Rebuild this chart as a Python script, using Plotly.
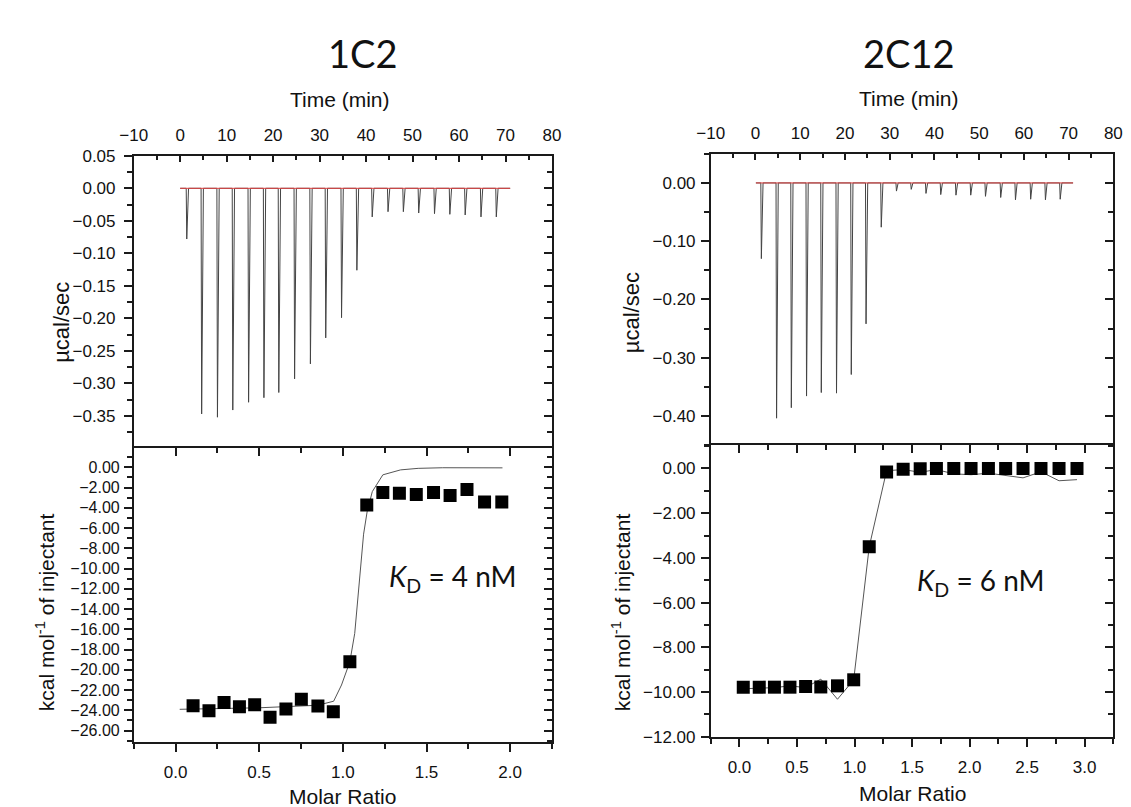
import plotly.graph_objects as go

# ---------------- data ----------------
# Raw ITC thermograms: injection times (min) and peak depths (ucal/sec)
inj_time_1c2 = [1.3, 4.5, 7.9, 11.2, 14.6, 17.9, 21.1, 24.5, 27.9, 31.2, 34.6,
                37.9, 41.2, 44.6, 47.9, 51.2, 54.6, 57.9, 61.2, 64.6, 67.9]
peak_1c2 = [-0.078, -0.347, -0.352, -0.341, -0.329, -0.322, -0.314, -0.293,
            -0.270, -0.230, -0.199, -0.126, -0.044, -0.036, -0.036, -0.038,
            -0.039, -0.040, -0.041, -0.044, -0.044]
baseline_1c2 = [0.0, 71.0]

inj_time_2c12 = [1.2, 4.6, 7.9, 11.3, 14.6, 18.0, 21.3, 24.6, 28.0, 31.4, 34.7,
                 38.0, 41.3, 44.7, 48.0, 51.3, 54.7, 58.0, 61.4, 64.7, 68.0]
peak_2c12 = [-0.130, -0.404, -0.386, -0.366, -0.360, -0.361, -0.329, -0.242,
             -0.076, -0.014, -0.011, -0.018, -0.020, -0.021, -0.021, -0.023,
             -0.025, -0.029, -0.028, -0.029, -0.028]
baseline_2c12 = [0.1, 71.0]

# Integrated heats (kcal/mol of injectant) vs molar ratio
mr_1c2 = [0.105, 0.200, 0.290, 0.382, 0.473, 0.565, 0.660, 0.752, 0.851, 0.943,
          1.042, 1.143, 1.239, 1.338, 1.439, 1.542, 1.641, 1.742, 1.847, 1.950]
dh_1c2 = [-23.55, -24.03, -23.23, -23.64, -23.45, -24.68, -23.87, -22.90, -23.58,
          -24.13, -19.20, -3.72, -2.49, -2.56, -2.68, -2.49, -2.78, -2.20, -3.43, -3.43]
fit_x_1c2 = [0.025, 0.50, 0.85, 0.945, 0.992, 1.042, 1.071, 1.097, 1.124, 1.145,
             1.176, 1.239, 1.345, 1.450, 1.597, 1.954]
fit_y_1c2 = [-23.9, -23.75, -23.5, -23.1, -21.5, -19.2, -16.4, -11.2, -6.6, -4.4,
             -2.4, -0.74, -0.25, -0.10, -0.04, -0.05]

mr_2c12 = [0.033, 0.172, 0.304, 0.439, 0.575, 0.707, 0.852, 0.993, 1.128, 1.279,
           1.423, 1.571, 1.712, 1.863, 2.013, 2.164, 2.314, 2.465, 2.621, 2.778, 2.934]
dh_2c12 = [-9.78, -9.78, -9.78, -9.78, -9.75, -9.77, -9.72, -9.45, -3.50, -0.16,
           -0.04, -0.01, 0.0, 0.0, 0.0, 0.0, 0.0, 0.0, 0.0, 0.0, 0.0]
fit_y_2c12 = [-9.85, -9.82, -9.80, -9.72, -9.80, -9.42, -10.32, -9.45, -3.50, -0.10,
              -0.05, -0.17, -0.05, -0.24, -0.28, -0.21, -0.33, -0.42, -0.15, -0.55, -0.50]

panel_titles = ["1C2", "2C12"]
kd_labels = ["<i>K</i><sub>D</sub> = 4 nM", "<i>K</i><sub>D</sub> = 6 nM"]

# ---------------- helpers ----------------
W, H = 1131, 807
FONT = "Liberation Sans, Arial, sans-serif"
TITLE_FONT = "Lato, Open Sans, sans-serif"
INK = "#1a1a1a"


def thermogram(times, peaks, base):
    xs, ys = [base[0]], [0.0]
    for t, d in zip(times, peaks):
        xs += [t, t + 0.12, t + 0.5]
        ys += [0.0, d, 0.0]
    xs.append(base[1])
    ys.append(0.0)
    return xs, ys


def dom_x(a, b):
    return [a / W, b / W]


def dom_y(top, bottom):
    return [1 - bottom / H, 1 - top / H]


def base_axis(**kw):
    d = dict(showline=True, linecolor=INK, linewidth=1.5, showgrid=False,
             zeroline=False, tickcolor=INK, tickwidth=1.5,
             ticklabeloverflow="allow",
             tickfont=dict(family=FONT, size=17, color="#111"))
    d.update(kw)
    return d


fig = go.Figure()

# ---------- traces ----------
tx, ty = thermogram(inj_time_1c2, peak_1c2, baseline_1c2)
fig.add_trace(go.Scatter(x=tx, y=ty, mode="lines", line=dict(color="#444", width=1),
                         xaxis="x", yaxis="y", showlegend=False))
fig.add_trace(go.Scatter(x=baseline_1c2, y=[0, 0], mode="lines",
                         line=dict(color="#e04040", width=1), xaxis="x", yaxis="y",
                         showlegend=False))
fig.add_trace(go.Scatter(x=fit_x_1c2, y=fit_y_1c2, mode="lines",
                         line=dict(color="#555", width=1), xaxis="x2", yaxis="y2",
                         showlegend=False))
fig.add_trace(go.Scatter(x=mr_1c2, y=dh_1c2, mode="markers",
                         marker=dict(symbol="square", size=13, color="black"),
                         xaxis="x2", yaxis="y2", showlegend=False))

tx, ty = thermogram(inj_time_2c12, peak_2c12, baseline_2c12)
fig.add_trace(go.Scatter(x=tx, y=ty, mode="lines", line=dict(color="#444", width=1),
                         xaxis="x4", yaxis="y5", showlegend=False))
fig.add_trace(go.Scatter(x=baseline_2c12, y=[0, 0], mode="lines",
                         line=dict(color="#e04040", width=1), xaxis="x4", yaxis="y5",
                         showlegend=False))
fig.add_trace(go.Scatter(x=mr_2c12, y=fit_y_2c12, mode="lines",
                         line=dict(color="#555", width=1), xaxis="x5", yaxis="y7",
                         showlegend=False))
fig.add_trace(go.Scatter(x=mr_2c12, y=dh_2c12, mode="markers",
                         marker=dict(symbol="square", size=13, color="black"),
                         xaxis="x5", yaxis="y7", showlegend=False))

# dummy traces so overlay (mirror-tick) axes are drawn
for xa, ya in [("x", "y3"), ("x3", "y2"), ("x2", "y4"),
               ("x4", "y6"), ("x6", "y7"), ("x5", "y8")]:
    fig.add_trace(go.Scatter(x=[None], y=[None], xaxis=xa, yaxis=ya,
                             showlegend=False, hoverinfo="skip"))

# ---------- geometry (pixels) ----------
L = dom_x(114, 541)
R = dom_x(703, 1114)
LU = dom_y(142, 441.5)
LL = dom_y(441.5, 742.7)
RU = dom_y(140, 438.3)
RL = dom_y(438.3, 737.3)

time_range = [-10.001, 80.001]
lu_range = [-0.3995, 0.0502]
ll_range = [-27.15, 1.9]
ru_range = [-0.45, 0.0502]
rl_range = [-12.005, 1.05]
lmr_range = [-0.25, 2.25]
rmr_range = [-0.25, 3.25]


def time_axis(domain, anchor):
    return base_axis(domain=domain, anchor=anchor, side="top", mirror=False,
                     range=time_range, tickmode="linear", tick0=0, dtick=10,
                     ticks="inside", ticklen=7, ticklabelstandoff=6,
                     minor=dict(ticks="inside", ticklen=5, tick0=0, dtick=5,
                                tickcolor=INK, tickwidth=1.5))


def y_axis(domain, anchor, rng, dtick, mdtick, fmt, size=17, standoff=4):
    return base_axis(domain=domain, anchor=anchor, mirror=True, range=rng,
                     tickmode="linear", tick0=0, dtick=dtick, tickformat=fmt,
                     ticks="outside", ticklen=8, ticklabelstandoff=standoff,
                     tickfont=dict(family=FONT, size=size, color="#111"),
                     minor=dict(ticks="outside", ticklen=5, tick0=0, dtick=mdtick,
                                tickcolor=INK, tickwidth=1.5))


def y_mirror(over, anchor, rng, dtick, mdtick):
    return base_axis(overlaying=over, anchor=anchor, side="right", range=rng,
                     tickmode="linear", tick0=0, dtick=dtick, showticklabels=False,
                     ticks="inside", ticklen=8, showline=False,
                     minor=dict(ticks="inside", ticklen=5, tick0=0, dtick=mdtick,
                                tickcolor=INK, tickwidth=1.5))


def mr_axis(domain, anchor, rng):
    return base_axis(domain=domain, anchor=anchor, side="bottom", mirror=True,
                     range=rng, tickmode="linear", tick0=0, dtick=0.5,
                     tickformat=".1f", ticks="outside", ticklen=8,
                     ticklabelstandoff=6,
                     minor=dict(ticks="outside", ticklen=5, tick0=0, dtick=0.25,
                                tickcolor=INK, tickwidth=1.5))


def mr_mirror(over, anchor, rng):
    return base_axis(overlaying=over, anchor=anchor, side="top", range=rng,
                     tickmode="linear", tick0=0, dtick=0.5, showticklabels=False,
                     ticks="inside", ticklen=8, showline=False,
                     minor=dict(ticks="inside", ticklen=5, tick0=0, dtick=0.25,
                                tickcolor=INK, tickwidth=1.5))


layout = dict(
    width=W, height=H, margin=dict(l=0, r=0, t=0, b=0),
    paper_bgcolor="white", plot_bgcolor="white", showlegend=False,
    # left panel
    xaxis=time_axis(L, "y"),
    yaxis=y_axis(LU, "x", lu_range, 0.05, 0.025, ".2f", standoff=5),
    yaxis3=y_mirror("y", "x", lu_range, 0.05, 0.025),
    xaxis2=mr_axis(L, "y2", lmr_range),
    yaxis2=y_axis(LL, "x2", ll_range, 2, 1, ".2f", size=16, standoff=1),
    xaxis3=mr_mirror("x2", "y2", lmr_range),
    yaxis4=y_mirror("y2", "x2", ll_range, 2, 1),
    # right panel
    xaxis4=time_axis(R, "y5"),
    yaxis5=y_axis(RU, "x4", ru_range, 0.1, 0.05, ".2f", standoff=2),
    yaxis6=y_mirror("y5", "x4", ru_range, 0.1, 0.05),
    xaxis5=mr_axis(R, "y7", rmr_range),
    yaxis7=y_axis(RL, "x5", rl_range, 2, 1, ".2f", standoff=2),
    xaxis6=mr_mirror("x5", "y7", rmr_range),
    yaxis8=y_mirror("y7", "x5", rl_range, 2, 1),
)
fig.update_layout(**layout)


def ann(text, xpx, ypx, size, family=FONT, angle=0):
    return dict(text=text, x=xpx / W, y=1 - ypx / H, xref="paper", yref="paper",
                showarrow=False, xanchor="center", yanchor="middle", textangle=angle,
                font=dict(family=family, size=size, color="#111"))


annotations = [
    ann(panel_titles[0], 348, 37, 38, TITLE_FONT),
    ann(panel_titles[1], 905, 37, 38, TITLE_FONT),
    ann("Time (min)", 325, 84, 21),
    ann("Time (min)", 905, 83, 21),
    ann("µcal/sec", 40, 313, 22, angle=-90),
    ann("µcal/sec", 623, 303, 22, angle=-90),
    ann("kcal mol<sup>-1</sup> of injectant", 23, 610, 21, angle=-90),
    ann("kcal mol<sup>-1</sup> of injectant", 611, 610, 21, angle=-90),
    ann("Molar Ratio", 327, 798, 21),
    ann("Molar Ratio", 909, 795, 21),
    dict(text=kd_labels[0], x=1.66, y=-10.9, xref="x2", yref="y2", showarrow=False,
         xanchor="center", yanchor="middle",
         font=dict(family=TITLE_FONT, size=28, color="#111")),
    dict(text=kd_labels[1], x=2.10, y=-5.08, xref="x5", yref="y7", showarrow=False,
         xanchor="center", yanchor="middle",
         font=dict(family=TITLE_FONT, size=28, color="#111")),
]
fig.update_layout(annotations=annotations)

fig.write_html("out.html")
